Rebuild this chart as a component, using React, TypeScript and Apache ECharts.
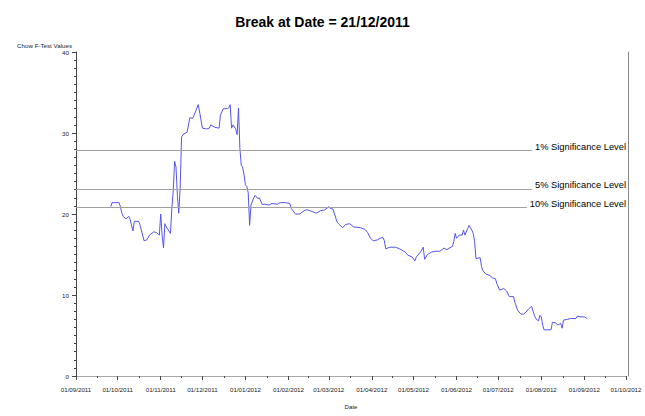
import React, { useEffect, useRef } from "react";
import * as echarts from "echarts";

const titleText = "Break at Date = 21/12/2011";
const yAxisName = "Chow F-Test Values";
const xAxisName = "Date";

const axisMin = "2011-09-01";
const axisMax = "2012-10-01";

const dates: string[] = [
  "2011-09-26", "2011-09-27", "2011-10-02", "2011-10-03", "2011-10-04", "2011-10-05", "2011-10-07", "2011-10-09",
  "2011-10-10", "2011-10-12", "2011-10-13", "2011-10-16", "2011-10-17", "2011-10-20", "2011-10-22", "2011-10-24",
  "2011-10-27", "2011-10-29", "2011-10-31", "2011-11-01", "2011-11-02", "2011-11-03", "2011-11-04", "2011-11-05",
  "2011-11-08", "2011-11-09", "2011-11-10", "2011-11-11", "2011-11-12", "2011-11-13", "2011-11-14", "2011-11-15",
  "2011-11-16", "2011-11-17", "2011-11-20", "2011-11-22", "2011-11-24", "2011-11-26", "2011-11-28", "2011-11-29",
  "2011-12-01", "2011-12-04", "2011-12-06", "2011-12-07", "2011-12-10", "2011-12-13", "2011-12-14", "2011-12-16",
  "2011-12-17", "2011-12-19", "2011-12-20", "2011-12-21", "2011-12-22", "2011-12-23", "2011-12-25", "2011-12-26",
  "2011-12-27", "2011-12-28", "2011-12-29", "2011-12-30", "2011-12-31",
  "2012-01-01", "2012-01-02", "2012-01-03", "2012-01-04", "2012-01-05", "2012-01-07", "2012-01-08", "2012-01-10",
  "2012-01-11", "2012-01-13", "2012-01-15", "2012-01-18", "2012-01-20", "2012-01-24", "2012-01-26", "2012-01-30",
  "2012-02-02", "2012-02-03", "2012-02-06", "2012-02-09", "2012-02-13", "2012-02-15", "2012-02-18", "2012-02-21",
  "2012-02-24", "2012-02-27", "2012-03-01", "2012-03-02", "2012-03-04", "2012-03-07", "2012-03-08", "2012-03-11",
  "2012-03-13", "2012-03-16", "2012-03-19", "2012-03-24", "2012-03-27", "2012-03-29", "2012-03-31", "2012-04-02",
  "2012-04-05", "2012-04-07", "2012-04-09", "2012-04-10", "2012-04-11", "2012-04-14", "2012-04-18", "2012-04-21",
  "2012-04-25", "2012-04-27", "2012-04-30", "2012-05-02", "2012-05-03", "2012-05-06", "2012-05-08", "2012-05-09",
  "2012-05-11", "2012-05-14", "2012-05-17", "2012-05-20", "2012-05-23", "2012-05-25", "2012-05-29", "2012-05-30",
  "2012-05-31", "2012-06-01", "2012-06-03", "2012-06-05", "2012-06-06", "2012-06-07", "2012-06-09", "2012-06-10",
  "2012-06-12", "2012-06-13", "2012-06-14", "2012-06-15", "2012-06-18", "2012-06-19", "2012-06-20", "2012-06-22",
  "2012-06-25", "2012-06-27", "2012-06-29", "2012-06-30", "2012-07-02", "2012-07-05", "2012-07-07", "2012-07-09",
  "2012-07-12", "2012-07-13", "2012-07-15", "2012-07-17", "2012-07-19", "2012-07-21", "2012-07-23", "2012-07-25",
  "2012-07-27", "2012-07-28", "2012-07-30", "2012-07-31", "2012-08-01", "2012-08-02", "2012-08-03", "2012-08-08",
  "2012-08-09", "2012-08-11", "2012-08-13", "2012-08-15", "2012-08-16", "2012-08-17", "2012-08-20", "2012-08-22",
  "2012-08-26", "2012-08-27", "2012-08-29", "2012-09-01", "2012-09-03",
];

const values: number[] = [
  20.9, 21.4, 21.4, 20.9, 20.1, 19.7, 19.4, 19.7,
  19.3, 17.9, 19.1, 19.1, 18.7, 16.7, 16.8, 17.4,
  17.8, 17.7, 17.4, 20.0, 17.4, 15.8, 18.8, 18.4,
  17.6, 20.7, 22.8, 26.5, 25.8, 22.3, 20.1, 23.2,
  29.5, 29.8, 30.1, 31.9, 31.8, 32.6, 33.5, 32.6,
  30.6, 30.5, 30.6, 31.0, 30.7, 30.6, 32.2, 33.0,
  33.0, 33.0, 33.1, 33.5, 30.6, 31.0, 30.5, 29.8,
  33.1, 28.1, 26.0, 25.8, 24.8,
  23.6, 23.4, 22.6, 18.6, 21.1, 22.0, 22.3, 21.9,
  22.0, 21.2, 21.2, 21.1, 21.3, 21.2, 21.4, 21.4,
  21.3, 20.7, 20.0, 20.0, 20.5, 20.5, 20.3, 20.1,
  20.4, 20.5, 20.9, 20.7, 20.6, 19.0, 18.8, 18.3,
  18.7, 18.8, 18.4, 18.3, 18.1, 17.7, 17.0, 16.7,
  16.8, 17.0, 17.1, 16.7, 15.7, 15.9, 15.9, 15.7,
  15.3, 14.9, 14.7, 14.2, 14.7, 15.3, 15.9, 14.4,
  15.0, 15.3, 15.4, 15.4, 15.8, 15.6, 16.0, 16.6,
  17.6, 17.0, 17.4, 17.4, 18.0, 17.4, 18.2, 18.6,
  18.0, 17.6, 16.6, 14.5, 14.6, 13.5, 13.0, 12.6,
  12.4, 12.1, 12.0, 11.4, 10.6, 10.8, 10.5, 9.8,
  9.8, 9.1, 8.1, 7.7, 7.6, 7.9, 8.3, 8.6,
  7.5, 7.1, 6.8, 7.5, 7.3, 6.3, 5.7, 5.7,
  6.6, 6.6, 6.3, 6.5, 5.9, 6.9, 7.0, 7.1,
  7.1, 7.4, 7.3, 7.3, 7.1,
];

const levelValues: number[] = [27.9, 23.1, 20.8];
const levelLabels: string[] = ["1% Significance Level", "5% Significance Level", "10% Significance Level"];

const yTicks = { min: 0, max: 40, interval: 10 };

export default function App() {
  const ref = useRef<HTMLDivElement>(null);

  useEffect(() => {
    if (!ref.current) return;
    const chart = echarts.init(ref.current, undefined, { renderer: "svg" });
    const font = "'Liberation Sans', Arial, sans-serif";
    const axisColor = "#444";
    const option: any = {
      animation: false,
      backgroundColor: "#fff",
      textStyle: { fontFamily: font },
      title: {
        text: titleText,
        left: "center",
        top: 10,
        textStyle: { fontFamily: font, fontSize: 14, fontWeight: "bold", color: "#000" },
      },
      grid: { left: 76, right: 19, top: 52, bottom: 40, containLabel: false },
      xAxis: [
        {
          type: "time",
          min: axisMin,
          max: axisMax,
          splitNumber: 13,
          offset: 4,
          name: xAxisName,
          nameLocation: "middle",
          nameGap: 23,
          nameTextStyle: { fontSize: 6.2, color: "#222" },
          axisLine: { show: true, lineStyle: { color: axisColor, width: 1 } },
          axisTick: { show: true, length: 4, lineStyle: { color: axisColor } },
          minorTick: { show: true, splitNumber: 2, length: 2, lineStyle: { color: axisColor } },
          axisLabel: {
            formatter: "{dd}/{MM}/{yyyy}",
            fontSize: 6.2,
            color: "#222",
            margin: 6,
            hideOverlap: false,
            showMinLabel: true,
            showMaxLabel: true,
          },
          splitLine: { show: false },
        },
        {
          type: "value",
          position: "top",
          min: 0,
          max: 1,
          offset: 2.5,
          axisLine: { show: true, lineStyle: { color: "#a8a8a8", width: 1 } },
          axisTick: { show: false },
          axisLabel: { show: false },
          splitLine: { show: false },
        },
      ],
      yAxis: [
        {
          type: "value",
          min: yTicks.min,
          max: yTicks.max,
          interval: yTicks.interval,
          offset: 3,
          name: yAxisName,
          nameLocation: "end",
          nameGap: 7,
          nameTextStyle: { fontSize: 6.2, color: "#222", align: "right", verticalAlign: "middle", padding: [0, 4, 0, 0] },
          axisLine: { show: true, lineStyle: { color: axisColor, width: 1 } },
          axisTick: { show: true, length: 4, lineStyle: { color: axisColor } },
          minorTick: { show: true, splitNumber: 10, length: 2, lineStyle: { color: axisColor } },
          axisLabel: { fontSize: 6.2, color: "#222", margin: 4 },
          splitLine: { show: false },
        },
        {
          type: "value",
          position: "right",
          min: 0,
          max: 1,
          offset: 2,
          axisLine: { show: true, lineStyle: { color: "#888", width: 1 } },
          axisTick: { show: false },
          axisLabel: { show: false },
          splitLine: { show: false },
        },
      ],
      series: [
        {
          type: "line",
          xAxisIndex: 0,
          yAxisIndex: 0,
          data: dates.map((d, i) => [d, values[i]]),
          showSymbol: false,
          symbol: "none",
          lineStyle: { color: "#5555ef", width: 1 },
          z: 3,
          markLine: {
            silent: true,
            symbol: "none",
            lineStyle: { color: "#a0a0a0", width: 1, type: "solid" },
            label: {
              show: true,
              position: "insideEndTop",
              distance: [0, -2],
              fontSize: 9.3,
              color: "#000",
              fontFamily: font,
              backgroundColor: "#fff",
              padding: [0, 0, 1, 3],
              formatter: (p: any) => p.name,
            },
            data: levelValues.map((v, i) => ({ yAxis: v, name: levelLabels[i] })),
          },
        },
      ],
    };
    chart.setOption(option);
    return () => chart.dispose();
  }, []);

  return <div ref={ref} style={{ position: "fixed", left: 0, top: 0, width: 645, height: 416 }} />;
}
